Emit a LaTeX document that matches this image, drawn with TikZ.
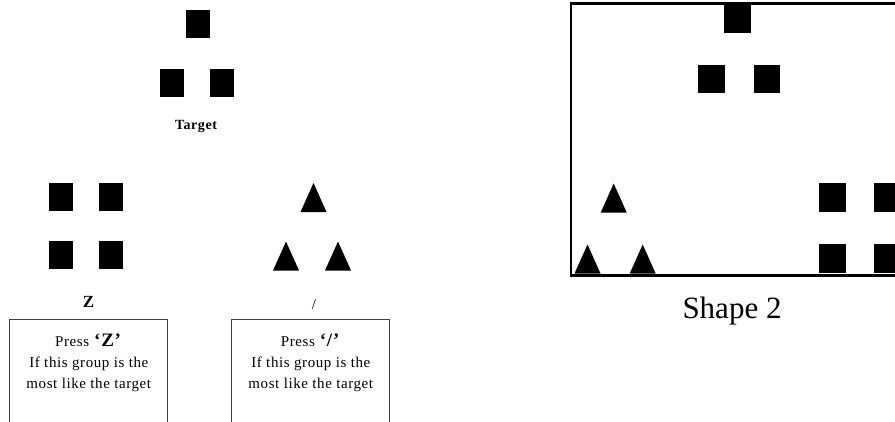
\documentclass[tikz,border=0pt]{standalone}
\usepackage{fontspec}
\setmainfont{Liberation Serif}
\newfontfamily\spacedserif[LetterSpace=4]{Liberation Serif}
\begin{document}
\begin{tikzpicture}[x=1pt,y=-1pt,
  sq/.style={fill=black,inner sep=0pt,minimum width=24pt,minimum height=28pt},
  bigsq/.style={fill=black,inner sep=0pt,minimum width=26.5pt,minimum height=28.5pt},
  tri/.pic={\fill (-13,14.5) -- (13,14.5) -- (0,-14.5) -- cycle;},
  txt/.style={inner sep=0pt,anchor=base,font=\spacedserif\fontsize{15}{18}\selectfont},
  boldtxt/.style={inner sep=0pt,anchor=base,font=\spacedserif\bfseries\fontsize{14}{16}\selectfont},
  answerbox/.style={draw=black!75,line width=0.8pt,minimum width=158pt,minimum height=140pt,anchor=north,inner sep=0pt}]
\useasboundingbox (0,0) rectangle (895,421);
\clip (0,0) rectangle (895,421);

% target group
\node[sq] (t1) at (198,24) {};
\node[sq] (t2) at (172,83) {};
\node[sq] (t3) at (222,83) {};
\node[boldtxt] (tlabel) at (196,129.3) {Target};

% choice "Z": four squares
\node[sq] (z1) at (60.5,197) {};
\node[sq] (z2) at (111,197) {};
\node[sq] (z3) at (60.5,255) {};
\node[sq] (z4) at (111,255) {};
\node[boldtxt,font=\bfseries\fontsize{17}{17}\selectfont] (zkey) at (88.5,307) {Z};

% choice "/": three triangles
\pic (s1) at (313.5,197.5) {tri};
\pic (s2) at (286,256) {tri};
\pic (s3) at (338,256) {tri};
\node[txt] (skey) at (314,309) {/};

% instruction boxes
\node[answerbox] (zbox) at (88.8,319.3) {};
\node[answerbox] (sbox) at (310.8,319.3) {};
\node[txt] (zl1) at (88.5,346.5) {Press \textbf{\fontsize{19}{19}\selectfont ‘Z’}};
\node[txt] (zl2) at (88.8,367.5) {If this group is the};
\node[txt] (zl3) at (88.8,388.5) {most like the target};
\node[txt] (sl1) at (310.5,346.5) {Press \textbf{\fontsize{19}{19}\selectfont ‘/’}};
\node[txt] (sl2) at (310.8,367.5) {If this group is the};
\node[txt] (sl3) at (310.8,388.5) {most like the target};

% framed screen: Shape 2
\draw[line width=2.2pt] (571,3.5) rectangle (910,275.5);
\node[bigsq] (f1) at (737.5,18.5) {};
\node[bigsq] (f2) at (711.5,79) {};
\node[bigsq] (f3) at (767,79) {};
\node[bigsq] (f4) at (832.5,197.5) {};
\node[bigsq] (f5) at (887,197.5) {};
\node[bigsq] (f6) at (832.5,258.5) {};
\node[bigsq] (f7) at (887,258.5) {};
\pic (g1) at (613.7,198) {tri};
\pic (g2) at (587.5,259) {tri};
\pic (g3) at (642.7,259) {tri};
\node[inner sep=0pt,anchor=base,font=\fontsize{31}{31}\selectfont] (cap) at (732,318) {Shape 2};
\end{tikzpicture}
\end{document}
